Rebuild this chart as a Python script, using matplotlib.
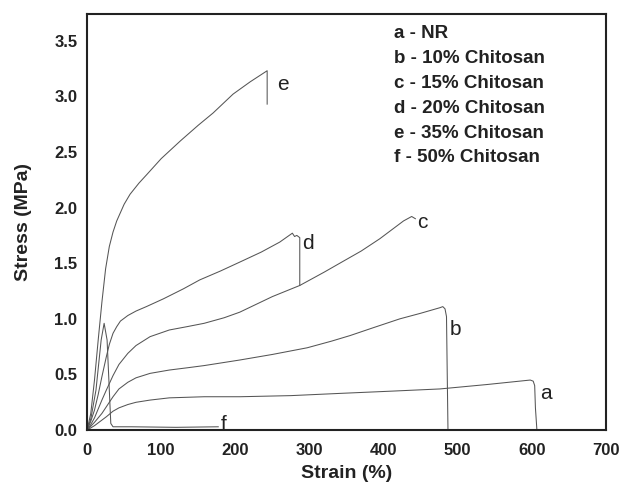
import matplotlib
matplotlib.use("Agg")
import matplotlib.pyplot as plt

plt.rcParams['font.family'] = ['Liberation Sans', 'DejaVu Sans']

# curve data: strain (%) and stress (MPa)
a_strain = [0, 10, 20, 26, 35, 43, 55, 66, 85, 111, 158, 206, 275, 341, 410, 476, 540, 598, 602, 604, 605, 607]
a_stress = [0, 0.04, 0.09, 0.12, 0.17, 0.20, 0.23, 0.25, 0.27, 0.29, 0.30, 0.30, 0.31, 0.33, 0.35, 0.37, 0.41, 0.45, 0.44, 0.40, 0.2, 0.0]

b_strain = [0, 10, 20, 26, 35, 43, 55, 66, 85, 111, 135, 158, 206, 250, 297, 330, 355, 386, 422, 450, 476, 480, 483, 485, 486, 487]
b_stress = [0, 0.07, 0.15, 0.21, 0.30, 0.37, 0.43, 0.47, 0.51, 0.54, 0.56, 0.58, 0.63, 0.68, 0.74, 0.80, 0.85, 0.92, 1.00, 1.05, 1.10, 1.11, 1.09, 1.02, 0.5, 0.0]

c_strain = [0, 5, 10, 15, 20, 26, 35, 43, 55, 66, 85, 111, 135, 158, 185, 206, 250, 287, 320, 341, 370, 395, 415, 427, 438, 443]
c_stress = [0, 0.05, 0.11, 0.19, 0.27, 0.36, 0.49, 0.59, 0.69, 0.76, 0.84, 0.90, 0.93, 0.96, 1.01, 1.06, 1.20, 1.30, 1.42, 1.50, 1.61, 1.72, 1.82, 1.88, 1.92, 1.90]

d_strain = [0, 5, 10, 15, 20, 26, 30, 35, 40, 45, 55, 66, 80, 103, 130, 152, 180, 206, 235, 260, 277, 280, 283, 287, 287]
d_stress = [0, 0.08, 0.18, 0.32, 0.48, 0.66, 0.77, 0.87, 0.93, 0.98, 1.03, 1.07, 1.11, 1.18, 1.27, 1.35, 1.43, 1.51, 1.60, 1.69, 1.77, 1.74, 1.75, 1.73, 1.30]

e_strain = [0, 5, 10, 15, 20, 25, 30, 35, 40, 50, 58, 70, 81, 100, 126, 150, 170, 197, 220, 243, 243]
e_stress = [0, 0.15, 0.45, 0.81, 1.15, 1.45, 1.65, 1.78, 1.88, 2.03, 2.12, 2.22, 2.30, 2.44, 2.60, 2.74, 2.85, 3.02, 3.13, 3.23, 2.93]

f_strain = [0, 5, 12, 19, 23, 27, 30, 32, 35, 60, 120, 177]
f_stress = [0, 0.10, 0.36, 0.81, 0.96, 0.81, 0.36, 0.06, 0.03, 0.03, 0.025, 0.03]

curve_tags = ['a', 'b', 'c', 'd', 'e', 'f']
tag_x = [619, 497, 452, 298, 264, 184]
tag_y = [0.33, 0.90, 1.87, 1.68, 3.11, 0.05]

legend_lines = ['a - NR', 'b - 10% Chitosan', 'c - 15% Chitosan',
                'd - 20% Chitosan', 'e - 35% Chitosan', 'f - 50% Chitosan']

fig = plt.figure(figsize=(6.22, 4.91), dpi=100)
ax = fig.add_axes([0.140, 0.124, 0.834, 0.8475])

curves = [(a_strain, a_stress), (b_strain, b_stress), (c_strain, c_stress),
          (d_strain, d_stress), (e_strain, e_stress), (f_strain, f_stress)]
for xs, ys in curves:
    ax.plot(xs, ys, color='#555555', lw=0.75)

# letters next to each curve end
for t, x, y in zip(curve_tags, tag_x, tag_y):
    ax.text(x, y, t, fontsize=15, ha='center', va='center', color='#222222')

# legend written as plain text block
for i, s in enumerate(legend_lines):
    ax.text(0.592, 0.952 - i * 0.0596, s, transform=ax.transAxes,
            fontsize=13.5, fontweight='bold', ha='left', va='center', color='#222222')

ax.set_xlim(0, 700)
ax.set_ylim(0, 3.74)
ax.set_xticks([0, 100, 200, 300, 400, 500, 600, 700])
ax.set_yticks([0.0, 0.5, 1.0, 1.5, 2.0, 2.5, 3.0, 3.5])
ax.set_yticklabels(['0.0', '0.5', '1.0', '1.5', '2.0', '2.5', '3.0', '3.5'])
ax.tick_params(length=0, labelsize=12, colors='#222222')
ax.tick_params(axis='x', pad=9)
ax.tick_params(axis='y', pad=7)
for lab in ax.get_xticklabels() + ax.get_yticklabels():
    lab.set_fontweight('bold')
for sp in ax.spines.values():
    sp.set_linewidth(1.5)
    sp.set_color('#222222')

ax.set_xlabel('Strain (%)', fontsize=14, fontweight='bold', color='#222222', labelpad=5)
ax.set_ylabel('Stress (MPa)', fontsize=14, fontweight='bold', color='#222222', labelpad=16)

fig.savefig('out.png', dpi=100)
